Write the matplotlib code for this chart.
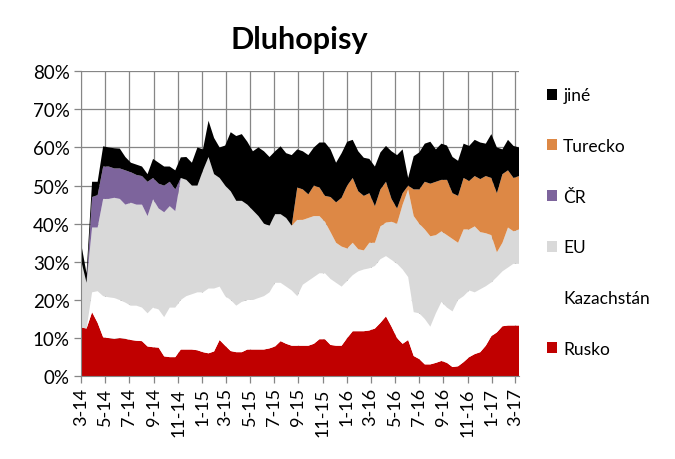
import numpy as np
import pandas as pd
import matplotlib
matplotlib.use('Agg')
import matplotlib.pyplot as plt
from matplotlib.patches import Patch

plt.rcParams['font.family'] = ['Lato', 'DejaVu Sans']

# biweekly observations, shares in %
dates = pd.date_range('2014-03-01', periods=80, freq='14D')

rusko = [12.8, 12.5, 16.8, 14, 10.2, 10, 9.8, 10, 9.8, 9.5,
         9.3, 9.2, 7.8, 7.6, 7.5, 5.2, 5, 5, 7, 7,
         7, 6.8, 6.3, 6, 6.5, 9.5, 8, 6.6, 6.3, 6.3,
         7, 7, 7, 7, 7.3, 7.8, 9.2, 8.5, 8, 8,
         8, 8, 8.5, 9.7, 9.7, 8.2, 8, 8, 10, 11.8,
         11.8, 11.8, 12, 12.5, 14, 15.7, 13, 10, 8.5, 9.5,
         5.3, 4.5, 3.1, 3.1, 3.5, 4, 3.5, 2.4, 2.6, 3.7,
         5, 5.8, 6.3, 8, 10.5, 11.5, 13.1, 13.3, 13.3, 13.3]
kazachstan = [0, 0, 5.2, 8.3, 10.8, 10.7, 10.7, 10, 9.5, 9,
              9.2, 8.8, 8.7, 10.4, 10, 10.3, 13, 13, 13, 14,
              14.5, 15.2, 15.7, 17, 16.5, 14, 13, 13.4, 12.2, 13.2,
              13, 13, 13.5, 14, 14.7, 16.7, 15.3, 15, 14.5, 13,
              16, 17, 17.5, 17.3, 17.3, 17.3, 16.5, 15.5, 15, 14.7,
              15.7, 16.2, 16.3, 16.4, 16.7, 15.8, 17.5, 19.5, 19.5, 16.5,
              11.5, 12, 11.9, 9.9, 13, 15.5, 14.5, 14.6, 17.4, 17.3,
              17.5, 16.2, 16.5, 15.6, 14.1, 14.5, 14.4, 15.2, 16.2, 16.2]
eu = [17.7, 12, 17, 16.7, 25.5, 25.8, 26.3, 26.5, 25.7, 27,
      26.5, 27, 25.5, 28.4, 26.5, 27.5, 26.6, 25.3, 32, 30.5,
      28.5, 28, 32, 34.5, 30, 28.5, 29, 28.5, 27.5, 26.5,
      25, 23.5, 21.5, 19, 17.5, 18, 18, 18, 17, 20,
      17, 16.5, 16, 15, 13.5, 12.3, 10.5, 10.5, 8.5, 8.5,
      5.8, 5, 6.7, 6.1, 8.6, 8.8, 10, 10.5, 17, 23,
      25.2, 23.5, 23.5, 23.7, 20.5, 18.5, 19, 19, 15, 17.5,
      16, 17.3, 15, 13.9, 12.4, 6.5, 7.5, 10.5, 8.5, 9]
cr = [0, 0, 8, 8.5, 8.5, 8.5, 7.7, 8, 9, 8,
      7.8, 7.5, 9, 5.6, 6.5, 7, 6.4, 5.7] + [0] * 62
turecko = [0] * 39 + [8.5,
           8, 6.2, 8, 7.5, 6.8, 9.2, 10.6, 12.8, 16.5, 17,
           15.2, 14.3, 13, 9.6, 9.7, 10.7, 6, 4, 3, 1,
           7, 9, 12.5, 13.8, 14, 13.5, 14.5, 12, 12.3, 13.5,
           12.7, 13.2, 13.9, 15, 15, 15.5, 18, 15, 14, 14]
jine = [4.5, 2.5, 4, 3.5, 5.3, 5, 5.3, 5.2, 3.5, 2.5,
        2.7, 2.5, 2, 5, 5.5, 5, 4, 5, 5.4, 6,
        6, 10, 5.5, 9.5, 9.5, 8, 10.5, 15.5, 17, 17.5,
        16.5, 15.5, 18, 19, 18, 16.5, 17.8, 17, 18.5, 10,
        10, 10.3, 10, 11.8, 14, 12.5, 10.4, 11.7, 11.5, 10,
        10.5, 10, 9, 10.4, 9.7, 9.4, 12.5, 14, 11.5, 2,
        8.7, 9.7, 10, 11, 8.5, 9.5, 9, 9.5, 9.2, 9,
        9.2, 9.5, 9.6, 8.5, 11.5, 12, 6.5, 8, 8.4, 7.5]

labels = ['Rusko', 'Kazachstán', 'EU', 'ČR', 'Turecko', 'jiné']
colors = ['#C00000', '#FFFFFF', '#D9D9D9', '#7D649C', '#DD8845', '#000000']

fig = plt.figure(figsize=(6.75, 4.6), dpi=100)
ax = fig.add_axes([0.12, 0.18, 0.649, 0.663])

x = dates.to_pydatetime()
ax.stackplot(x, rusko, kazachstan, eu, cr, turecko, jine,
             colors=colors, linewidth=0, zorder=2)

grid_col = '#868686'
tick_dates = pd.date_range('2014-03-01', '2017-03-01', freq='2MS')
ax.set_xticks(tick_dates.to_pydatetime())
ax.set_xticklabels([f"{d.month}-{d.strftime('%y')}" for d in tick_dates],
                   rotation=90, fontsize=13)
ax.set_xlim(x[0], x[-1])

ax.set_ylim(0, 80)
ax.set_yticks(range(0, 81, 10))
ax.set_yticklabels([f'{v}%' for v in range(0, 81, 10)], fontsize=13.5)

ax.grid(True, color=grid_col, linewidth=0.9)
ax.set_axisbelow(True)
for side in ['top', 'right']:
    ax.spines[side].set_visible(False)
for side in ['left', 'bottom']:
    ax.spines[side].set_color(grid_col)
    ax.spines[side].set_zorder(3)
ax.tick_params(axis='both', color=grid_col, length=5, width=0.9, pad=3)

fig.text(0.444, 1 - 40 / 460, 'Dluhopisy', ha='center', va='center',
         fontsize=22, fontweight='bold')

handles = [Patch(facecolor=c, edgecolor='none') for c in colors]
ax.legend(handles[::-1], labels[::-1], loc='center left',
          bbox_to_anchor=(0.81, 0.515), bbox_transform=fig.transFigure,
          frameon=False, fontsize=12.5, labelspacing=2.0,
          handlelength=0.6, handleheight=0.6, handletextpad=0.35,
          borderpad=0, borderaxespad=0)

fig.savefig('out.png', dpi=100)
